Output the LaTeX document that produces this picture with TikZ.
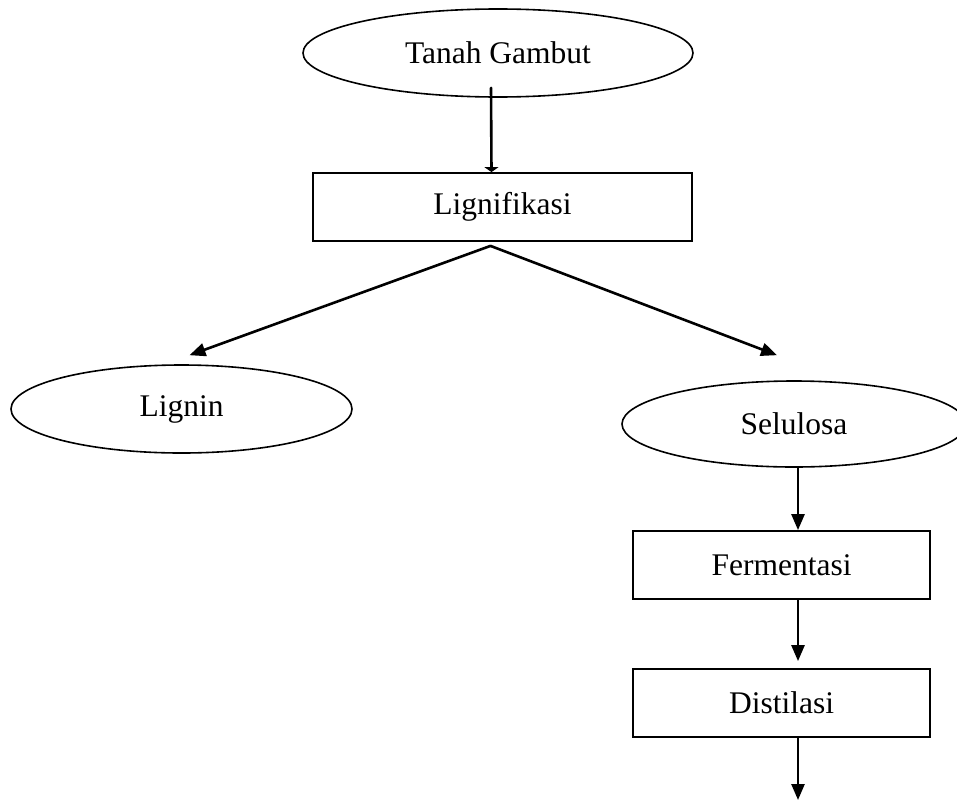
\documentclass[tikz,border=0pt]{standalone}
\usepackage{fontspec}
\setmainfont{Liberation Serif}
\usepackage{tikz}
\usetikzlibrary{arrows.meta, calc, shapes.geometric}
\tikzset{
	flowbox/.style={draw, line width=1.8pt, rectangle, minimum width=297pt, minimum height=68pt, inner sep=0pt},
	flowoval/.style={draw, line width=1.6pt, ellipse, inner sep=0pt},
	flowarrow/.style={line width=2.6pt, -{Triangle[length=16pt, width=13pt]}},
}

\begin{document}
\begin{tikzpicture}[x=1pt, y=-1pt, font=\fontsize{31.5}{38}\selectfont, line cap = round]

	\fill[white] (0,0) rectangle (957,800);
	\useasboundingbox (0,0) rectangle (957,800);

	\node[flowoval, minimum width=390pt, minimum height=88pt] (tanah) at (498,53) {Tanah Gambut};
	\node[flowbox, minimum width=379pt] (lig) at (502.5,207) {Lignifikasi};

	\node[flowoval, minimum width=341pt, minimum height=88pt] (lignin) at (181.5,409) {Lignin};
	\node[flowoval, minimum width=344pt, minimum height=86pt] (selulosa) at (794,424) {Selulosa};

	\node[flowbox] (ferm) at (781.5,565) {Fermentasi};
	\node[flowbox] (dist) at (781.5,703) {Distilasi};

	\coordinate (apex) at ([xshift=-12pt, yshift=-4pt]lig.south);
	\coordinate (out) at (798,800);

	% stem from the top oval
	\draw[flowarrow, -{Triangle[length=5pt, width=14pt]}] ([xshift=-7pt, yshift=10pt]tanah.south) -- ([xshift=-11pt]lig.north);

	\draw[flowarrow] (apex) -- ([xshift=8pt, yshift=9pt]lignin.north);
	\draw[flowarrow] (apex) -- ([xshift=-17pt, yshift=25pt]selulosa.north);

	\draw[flowarrow] ([xshift=4pt]selulosa.south) -- ([xshift=16.5pt]ferm.north);
	\draw[flowarrow, shorten >=7pt] ([xshift=16.5pt]ferm.south) -- ([xshift=16.5pt]dist.north);
	\draw[flowarrow] ([xshift=16.5pt]dist.south) -- (out);

\end{tikzpicture}
\end{document}
